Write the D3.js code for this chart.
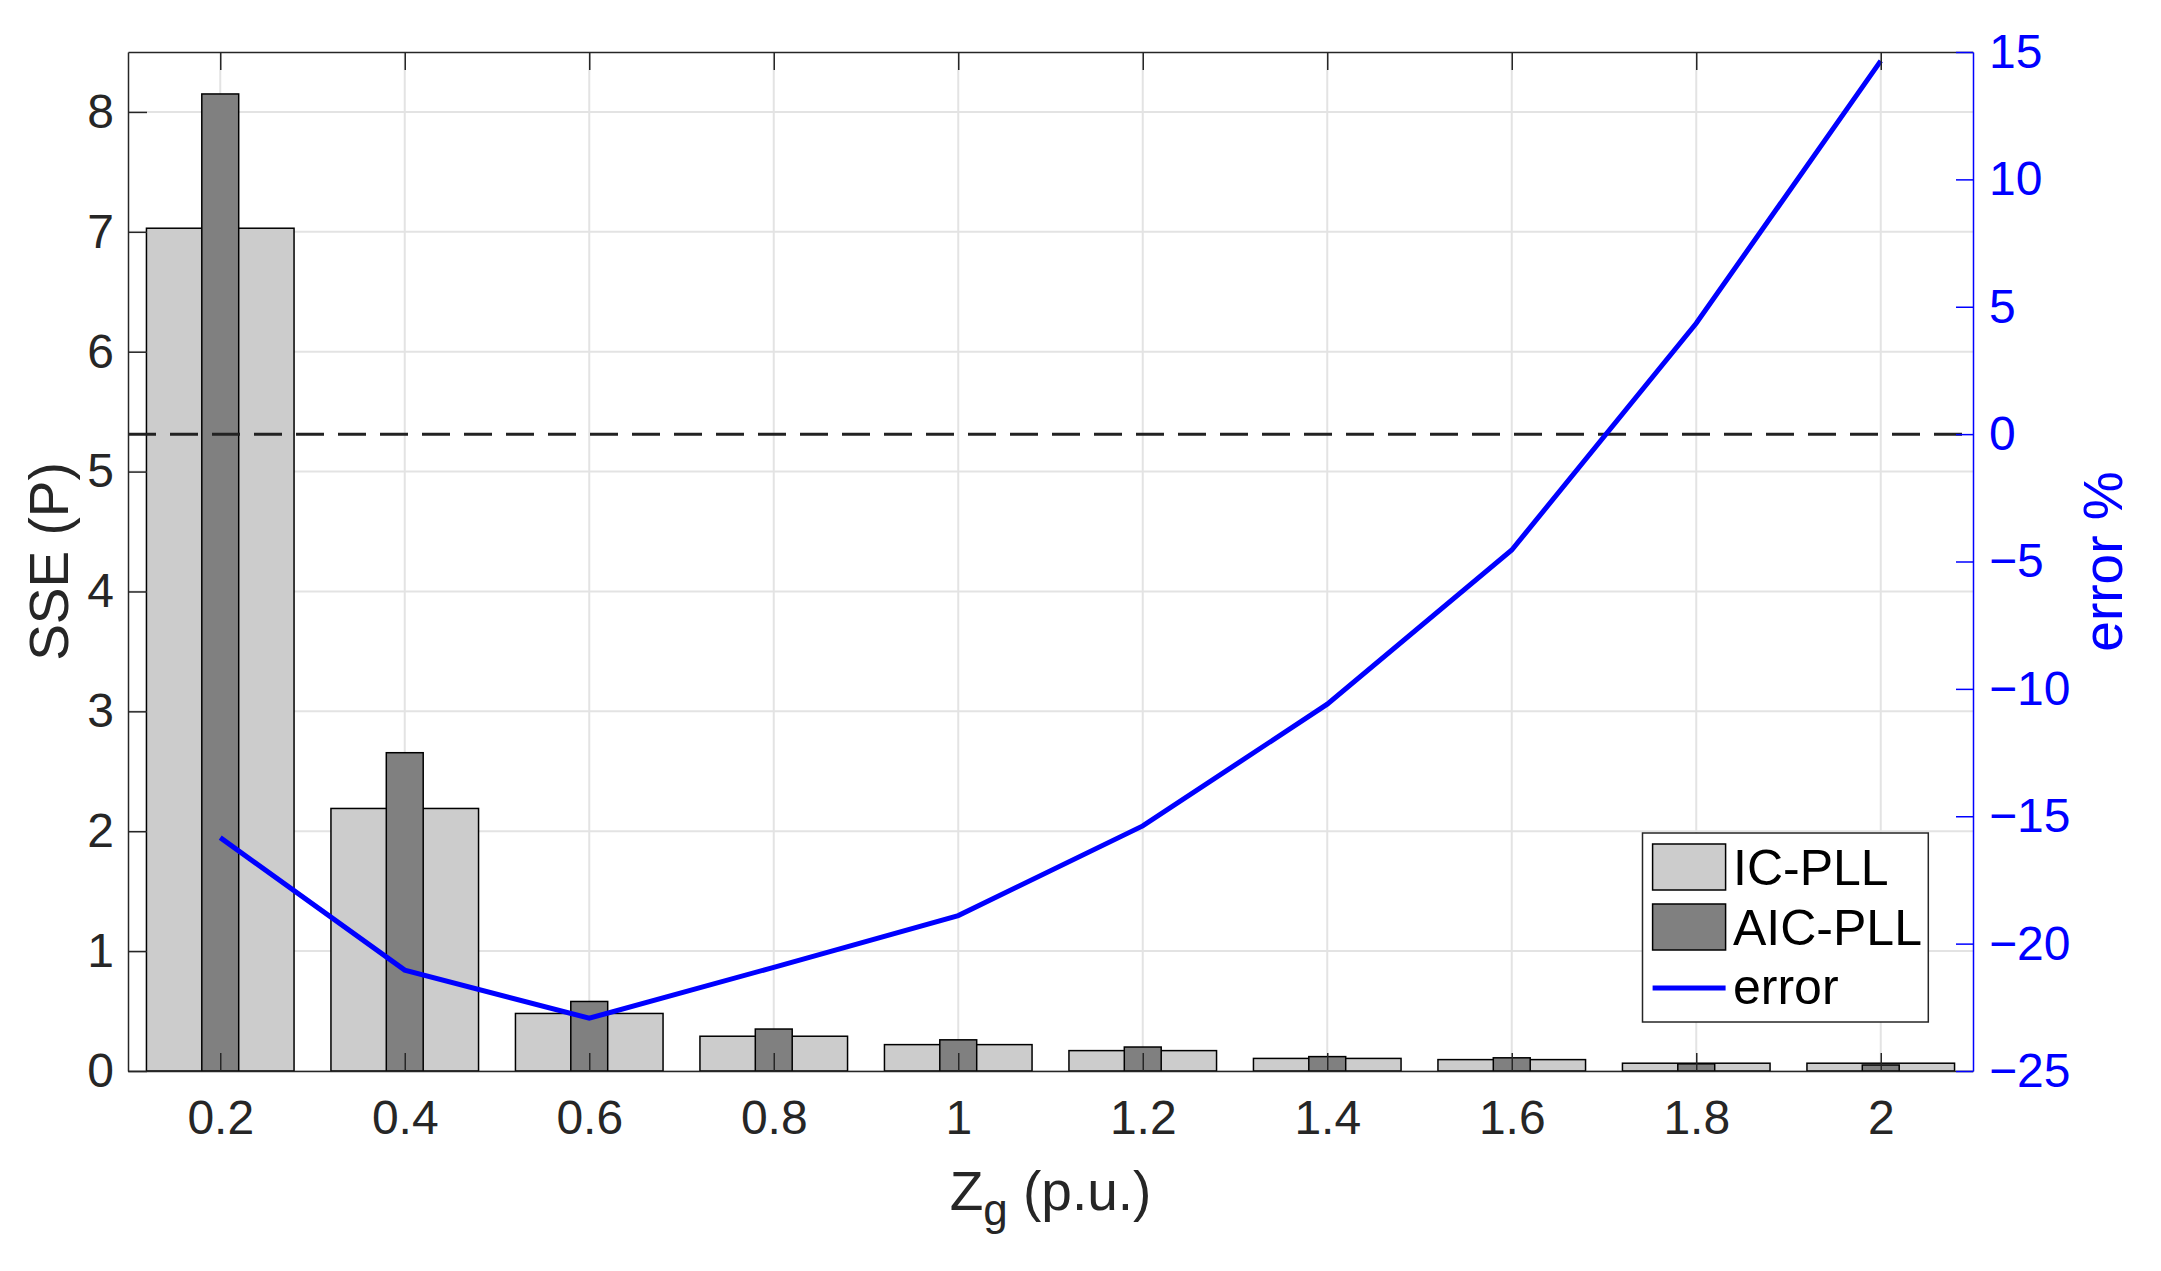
<!DOCTYPE html>
<html>
<head>
<meta charset="utf-8">
<script src="https://cdn.jsdelivr.net/npm/d3@7"></script>
<style>
  body { margin: 0; background: #fff; }
  svg { display: block; }
  text { font-family: "Liberation Sans", Arial, Helvetica, sans-serif; }
</style>
</head>
<body>
<svg id="chart" width="2161" height="1271"></svg>
<script>
// data
const zg = [0.2, 0.4, 0.6, 0.8, 1.0, 1.2, 1.4, 1.6, 1.8, 2.0];
const zgLabels = ["0.2", "0.4", "0.6", "0.8", "1", "1.2", "1.4", "1.6", "1.8", "2"];
const sseIC  = [7.03, 2.19, 0.48, 0.29, 0.22, 0.17, 0.105, 0.095, 0.065, 0.065];
const sseAIC = [8.15, 2.655, 0.58, 0.35, 0.26, 0.20, 0.12, 0.11, 0.06, 0.05];
const errorPct = [-15.84, -21.04, -22.93, -20.93, -18.9, -15.38, -10.6, -4.55, 4.35, 14.65];
const sseTicks = [0, 1, 2, 3, 4, 5, 6, 7, 8];
const errTicks = [-25, -20, -15, -10, -5, 0, 5, 10, 15];
const legendNames = ["IC-PLL", "AIC-PLL", "error"];

const svg = d3.select("#chart");
const pLeft = 128, pRight = 1973, pTop = 52, pBottom = 1071;
const axCol = "#262626", blue = "#0000ff";

const x  = d3.scaleLinear().domain([0.1, 2.1]).range([pLeft, pRight]);
const yL = d3.scaleLinear().domain([0, 8.5]).range([pBottom, pTop]);
const yR = d3.scaleLinear().domain([-25, 15]).range([pBottom, pTop]);

// grid
const grid = svg.append("g").attr("stroke", "#e3e3e3").attr("stroke-width", 2);
grid.selectAll("line.v").data(zg).enter().append("line")
    .attr("x1", d => x(d)).attr("x2", d => x(d))
    .attr("y1", pTop).attr("y2", pBottom);
grid.selectAll("line.h").data(sseTicks).enter().append("line")
    .attr("x1", pLeft).attr("x2", pRight)
    .attr("y1", d => yL(d)).attr("y2", d => yL(d));

// bars: wide IC-PLL, narrow AIC-PLL on top
const bars = svg.append("g").attr("stroke", "#000").attr("stroke-width", 1.5);
bars.selectAll("rect.ic").data(sseIC).enter().append("rect")
    .attr("x", (d, i) => x(zg[i] - 0.08))
    .attr("width", (d, i) => x(zg[i] + 0.08) - x(zg[i] - 0.08))
    .attr("y", d => yL(d))
    .attr("height", d => yL(0) - yL(d))
    .attr("fill", "#cccccc");
bars.selectAll("rect.aic").data(sseAIC).enter().append("rect")
    .attr("x", (d, i) => x(zg[i] - 0.02))
    .attr("width", (d, i) => x(zg[i] + 0.02) - x(zg[i] - 0.02))
    .attr("y", d => yL(d))
    .attr("height", d => yL(0) - yL(d))
    .attr("fill", "#808080");

// zero-error dashed line
svg.append("line")
    .attr("x1", pLeft).attr("x2", pRight)
    .attr("y1", yR(0)).attr("y2", yR(0))
    .attr("stroke", "#222").attr("stroke-width", 3)
    .attr("stroke-dasharray", "28,14");

// error line
const line = d3.line().x((d, i) => x(zg[i])).y(d => yR(d));
svg.append("path").datum(errorPct)
    .attr("d", line)
    .attr("fill", "none")
    .attr("stroke", blue)
    .attr("stroke-width", 5);

// axes
function styleAxis(g, col, fs) {
  g.selectAll("path.domain").attr("stroke", col).attr("stroke-width", 1.5);
  g.selectAll(".tick line").attr("stroke", col).attr("stroke-width", 1.5);
  g.selectAll(".tick text").attr("fill", col)
      .style("font-size", fs + "px")
      .style("font-family", "'Liberation Sans', Arial, Helvetica, sans-serif");
}

const xAxis = svg.append("g").attr("transform", `translate(0,${pBottom})`)
    .call(d3.axisBottom(x).tickValues(zg).tickFormat((d, i) => zgLabels[i])
      .tickSizeInner(-18).tickSizeOuter(0).tickPadding(29));
styleAxis(xAxis, axCol, 48);

const xTop = svg.append("g").attr("transform", `translate(0,${pTop})`)
    .call(d3.axisTop(x).tickValues(zg).tickFormat("")
      .tickSizeInner(-18).tickSizeOuter(0));
styleAxis(xTop, axCol, 48);

const yAxisL = svg.append("g").attr("transform", `translate(${pLeft},0)`)
    .call(d3.axisLeft(yL).tickValues(sseTicks).tickFormat(d3.format("d"))
      .tickSizeInner(-19).tickSizeOuter(0).tickPadding(14));
styleAxis(yAxisL, axCol, 48);

const yAxisR = svg.append("g").attr("transform", `translate(${pRight},0)`)
    .call(d3.axisRight(yR).tickValues(errTicks).tickFormat(d3.format("d"))
      .tickSizeInner(-17).tickSizeOuter(0).tickPadding(16));
styleAxis(yAxisR, blue, 48);

// axis labels
svg.append("text")
    .attr("transform", `translate(68,${(pTop + pBottom) / 2}) rotate(-90)`)
    .attr("text-anchor", "middle")
    .attr("fill", axCol)
    .style("font-size", "55px")
    .text("SSE (P)");

svg.append("text")
    .attr("transform", `translate(2122,${(pTop + pBottom) / 2}) rotate(-90)`)
    .attr("text-anchor", "middle")
    .attr("fill", blue)
    .style("font-size", "55px")
    .text("error %");

const xl = svg.append("text")
    .attr("x", (pLeft + pRight) / 2).attr("y", 1210)
    .attr("text-anchor", "middle")
    .attr("fill", axCol)
    .style("font-size", "55px");
xl.append("tspan").text("Z");
xl.append("tspan").attr("dy", 15).style("font-size", "44px").text("g");
xl.append("tspan").attr("dy", -15).text(" (p.u.)");

// legend
const lg = svg.append("g");
lg.append("rect")
    .attr("x", 1642.5).attr("y", 833)
    .attr("width", 285.8).attr("height", 189)
    .attr("fill", "#fff").attr("stroke", axCol).attr("stroke-width", 1.5);
const legendFills = ["#cccccc", "#808080"];
lg.selectAll("rect.sw").data(legendFills).enter().append("rect")
    .attr("x", 1652.6).attr("y", (d, i) => 844 + i * 60)
    .attr("width", 73).attr("height", 46)
    .attr("fill", d => d).attr("stroke", "#000").attr("stroke-width", 1.5);
lg.append("line")
    .attr("x1", 1652.6).attr("x2", 1725.6)
    .attr("y1", 988).attr("y2", 988)
    .attr("stroke", blue).attr("stroke-width", 5);
lg.selectAll("text").data(legendNames).enter().append("text")
    .attr("x", 1733).attr("y", (d, i) => 885 + i * 59.5)
    .attr("fill", "#000")
    .style("font-size", "50px")
    .text(d => d);
</script>
</body>
</html>
